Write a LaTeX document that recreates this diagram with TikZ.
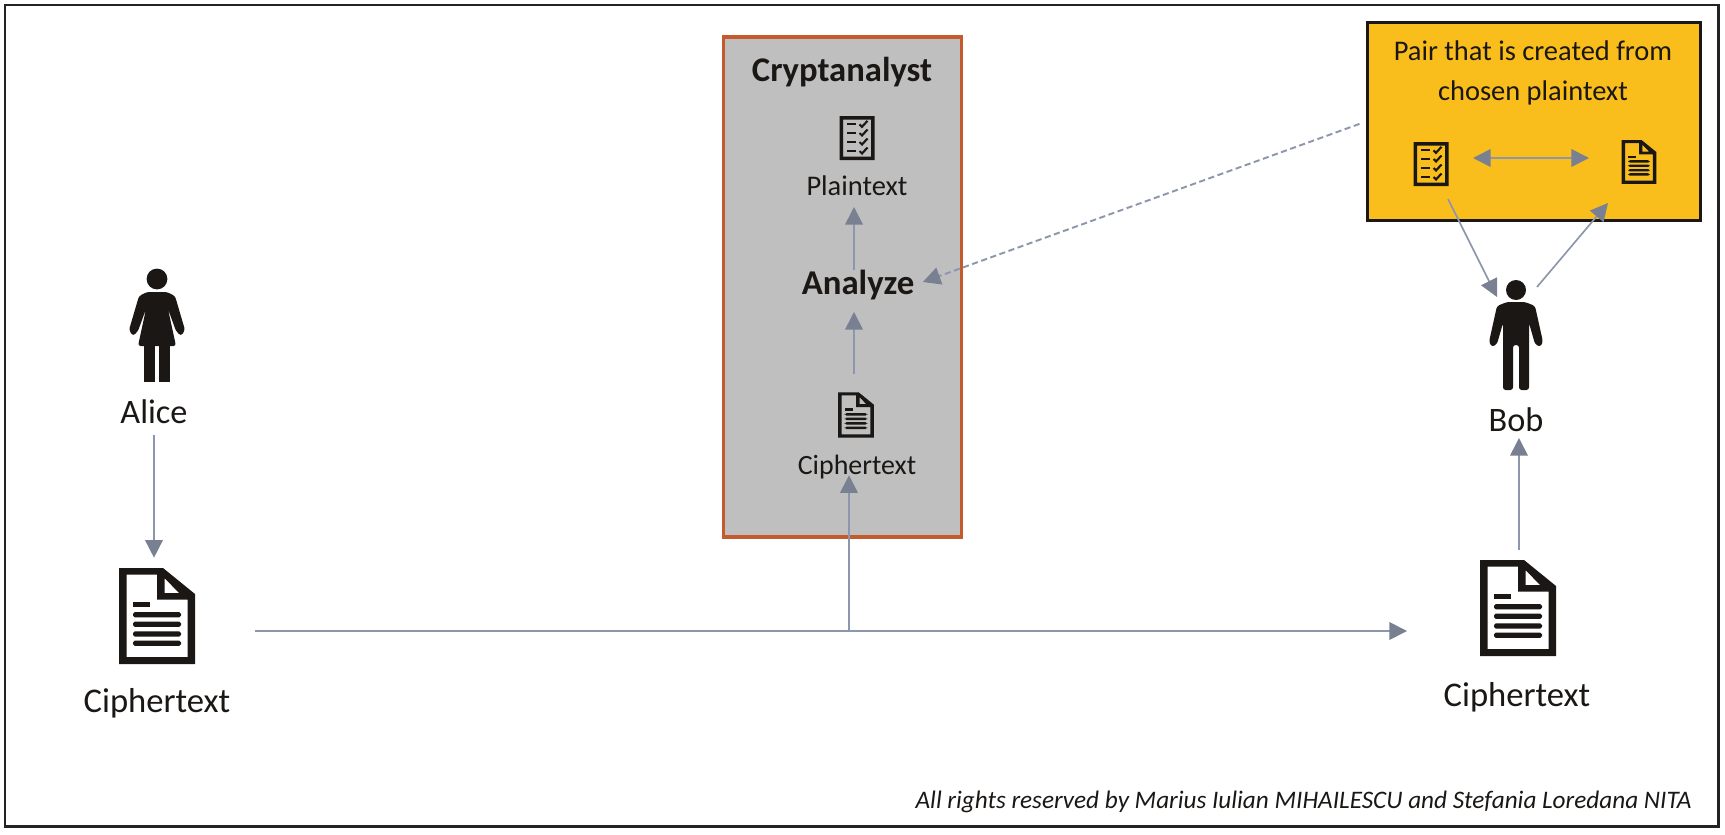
\documentclass[tikz,border=0pt]{standalone}
\usepackage{fontspec}
\setmainfont{Carlito}
\usetikzlibrary{arrows.meta, calc}
\definecolor{Ink}{RGB}{26,23,20}
\definecolor{Frame}{RGB}{35,35,38}
\definecolor{Gold}{RGB}{249,189,28}
\definecolor{Rust}{RGB}{197,90,45}
\definecolor{Panel}{RGB}{191,191,191}
\definecolor{Wire}{RGB}{140,150,172}
\definecolor{Head}{RGB}{120,128,146}

\begin{document}
\begin{tikzpicture}[
  x=0.02cm, y=-0.02cm,
  lbl/.style={inner sep=0pt, align=center, text=Ink, font=\fontsize{#1}{#1}\selectfont},
  boldlbl/.style={inner sep=0pt, align=center, text=Ink, font=\fontsize{#1}{#1}\selectfont\bfseries},
  spot/.style n args={2}{inner sep=0pt, minimum width=#1, minimum height=#2},
  conn/.style={draw=Wire, line width=0.95pt, -{Triangle[length=10pt, width=10pt, color=Head]}},
  connboth/.style={draw=Wire, line width=0.95pt, {Triangle[length=10pt, width=10pt, color=Head]}-{Triangle[length=10pt, width=10pt, color=Head]}},
  connhint/.style={draw=Wire, line width=1.1pt, dash pattern=on 3.5pt off 2pt, -{Triangle[length=10pt, width=10pt, color=Head]}},
  docicon/.pic={
    \fill[Ink, even odd rule] (-38,-48) -- (6,-48) -- (38,-22) -- (38,48) -- (-38,48) -- cycle
      (-30.5,-41.5) -- (0,-41.5) -- (0,-16.5) -- (30.5,-16.5) -- (30.5,41) -- (-30.5,41) -- cycle
      (7.5,-38) -- (7.5,-23) -- (22,-23) -- cycle;
    \fill[Ink] (-24,-14) rectangle (-7,-9.5);
    \foreach \yy in {-1.3, 8.3, 18, 27.3}
      \fill[Ink, rounded corners=1pt] (-24,\yy-2.6) rectangle (24,\yy+2.6);
  },
  listicon/.pic={
    \fill[Ink, even odd rule] (-17.5,-22) rectangle (17.5,22) (-14,-18.5) rectangle (14,18.5);
    \foreach \yy in {-13.7, -5, 4, 13} {
      \fill[Ink] (-10,\yy-1) rectangle (-1,\yy+1);
      \draw[Ink, line width=1.2pt] (2.5,\yy) -- (5,\yy+2.5) -- (10.5,\yy-3.5);
    }
  },
  bobfig/.pic={
    \fill[Ink] (0,-45) circle (10);
    \fill[Ink, rounded corners=1.5pt] (-9,-33) -- (-19,-29) -- (-27,7) -- (-24,12) -- (-19,9)
      -- (-13,-12) -- (-13,55) -- (-3,55) -- (-3,10) -- (3,10) -- (3,55) -- (13,55)
      -- (13,-12) -- (19,9) -- (24,12) -- (27,7) -- (19,-29) -- (9,-33) -- cycle;
  },
  alicefig/.pic={
    \fill[Ink] (0,-46) circle (10.4);
    \fill[Ink, rounded corners=1.5pt] (-10,-33) -- (-18,-29) -- (-28,5) -- (-24,11) -- (-19,6)
      -- (-11,-16) -- (-19,21) -- (19,21) -- (11,-16) -- (19,6) -- (24,11) -- (28,5)
      -- (18,-29) -- (10,-33) -- cycle;
    \fill[Ink] (-13,20) rectangle (-2,57);
    \fill[Ink] (2,20) rectangle (13,57);
  }
]
\useasboundingbox (0,0) rectangle (1725,835);
\draw[Frame, line width=1.7pt] (5,5) rectangle (1718,826);

% Boxes
\node[draw=Rust, fill=Panel, line width=1.9pt, spot={135.5pt}{284.6pt}] (panel) at (842.5,287) {};
\node[draw=Ink, fill=Gold, line width=1.7pt, spot={189.4pt}{112.8pt}] (pairbox) at (1534,121.5) {};

% Alice side
\node[spot={32pt}{62pt}] (alice) at (157,325) {};
\pic at (alice) {alicefig};
\node[lbl=19.5] (alicelbl) at (154,412) {Alice};
\node[spot={43pt}{55pt}] (docA) at (157,616) {};
\pic at (docA) {docicon};
\node[lbl=19.7] (cipherA) at (157,703) {Ciphertext};

% Cryptanalyst panel
\node[boldlbl=19.7] (crypt) at (842,72) {Cryptanalyst};
\node[spot={20pt}{25pt}] (listC) at (857,138) {};
\pic at (listC) {listicon};
\node[lbl=16.2] (plainC) at (857,186) {Plaintext};
\node[boldlbl=19.8] (analyze) at (858,285) {Analyze};
\node[spot={20pt}{26pt}] (docC) at (856,415) {};
\pic[scale=.47] at (docC) {docicon};
\node[lbl=15.9] (cipherC) at (857,467) {Ciphertext};

% Chosen pair
\node[lbl=16.2] (pairtxt) at (1533,73) {Pair that is created from\\[6.6pt]chosen plaintext};
\node[spot={20pt}{25pt}] (listP) at (1431,164) {};
\pic at (listP) {listicon};
\node[spot={20pt}{25pt}] (docP) at (1639,162) {};
\pic[scale=.455] at (docP) {docicon};

% Bob side
\node[spot={31pt}{62pt}] (bob) at (1516,335) {};
\pic at (bob) {bobfig};
\node[lbl=19.5] (boblbl) at (1516,420) {Bob};
\node[spot={43pt}{55pt}] (docB) at (1518,608) {};
\pic at (docB) {docicon};
\node[lbl=19.7] (cipherB) at (1517,697) {Ciphertext};

% Connections
\coordinate (wirestart) at (255,631);
\coordinate (wireend) at (1407,631);
\coordinate (tap) at (849,631);
\coordinate (upA) at (854,374);
\coordinate (upB) at (854,312);
\coordinate (upC) at (854,270);
\coordinate (upD) at (854,207);
\coordinate (upE) at (1519,550);
\coordinate (upF) at (1519,438);
\draw[conn, shorten <=6pt, shorten >=5.5pt] (alicelbl.south) -- (alicelbl.south |- docA.north);
\draw[conn] (wirestart) -- (wireend);
\draw[conn, shorten >=-2.3pt] (tap) -- (tap |- cipherC.south);
\draw[conn] (upA) -- (upB);
\draw[conn] (upC) -- (upD);
\draw[connhint, shorten <=4pt, shorten >=5pt] (pairbox.west) -- (analyze.east);
\draw[connboth] (1473,158) -- (1589,158);
\draw[conn] (1448,199) -- (1497,297);
\draw[conn] (1537,287) -- (1608,203);
\draw[conn] (upE) -- (upF);

% Credit line
\node[lbl=14.35, anchor=east, font=\fontsize{14.35}{14.35}\selectfont\itshape] (credit) at (1692,802) {All rights reserved by Marius Iulian MIHAILESCU and Stefania Loredana NITA};
\end{tikzpicture}
\end{document}
